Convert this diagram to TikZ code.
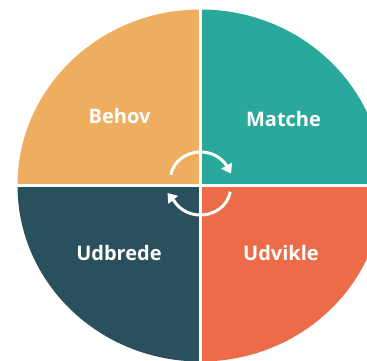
\documentclass[tikz,border=0pt]{standalone}
\usepackage{fontspec}
\setmainfont{Open Sans}
\usetikzlibrary{arrows.meta}
\definecolor{behovcol}{HTML}{EFAE5F}
\definecolor{matchecol}{HTML}{2AA89B}
\definecolor{udbredecol}{HTML}{2A505E}
\definecolor{udviklecol}{HTML}{EC6B48}

\begin{document}
\begin{tikzpicture}[x=1pt, y=1pt,
	quarter/.style={text=white, font=\bfseries\fontsize{20}{20}\selectfont, anchor=base},
	divider/.style={white, line width=2.8pt},
	cyclearrow/.style={white, line width=3pt, -{Triangle[length=9pt,width=12pt]}}]
	\useasboundingbox (0,0) rectangle (367,-361);
	\clip (0,0) rectangle (367,-361);

	\coordinate (c) at (200.5,-185.5);
	\coordinate (top) at (200.5,-5);
	\coordinate (bottom) at (200.5,-365);
	\coordinate (left) at (15,-185.5);
	\coordinate (right) at (370,-185.5);

	\fill[behovcol] (c) -- ++(-183,0) arc[start angle=180, end angle=90, x radius=183, y radius=176] -- cycle;
	\fill[matchecol] (c) -- ++(0,176) arc[start angle=90, end angle=0, x radius=183, y radius=176] -- cycle;
	\fill[udviklecol] (c) -- ++(183,0) arc[start angle=0, end angle=-90, x radius=183, y radius=176] -- cycle;
	\fill[udbredecol] (c) -- ++(0,-176) arc[start angle=-90, end angle=-180, x radius=183, y radius=176] -- cycle;

	\draw[divider] (top) -- (bottom);
	\draw[divider] (left) -- (right);

	\node[quarter] (behov) at (119.5,-124) {Behov};
	\node[quarter] (matche) at (283.5,-126.5) {Matche};
	\node[quarter] (udbrede) at (119,-260) {Udbrede};
	\node[quarter] (udvikle) at (281,-260) {Udvikle};

	\coordinate (arcup) at (200.5,-179);
	\coordinate (arcdown) at (200.5,-188);
	\coordinate (tipup) at (231,-173.5);
	\coordinate (tipdown) at (167.5,-193);
	\draw[cyclearrow] (arcup) ++(171:30 and 27) arc[start angle=171, end angle=30, x radius=30, y radius=27] -- (tipup);
	\draw[cyclearrow] (arcdown) ++(-8:30 and 27) arc[start angle=-8, end angle=-150, x radius=30, y radius=27] -- (tipdown);
\end{tikzpicture}
\end{document}
